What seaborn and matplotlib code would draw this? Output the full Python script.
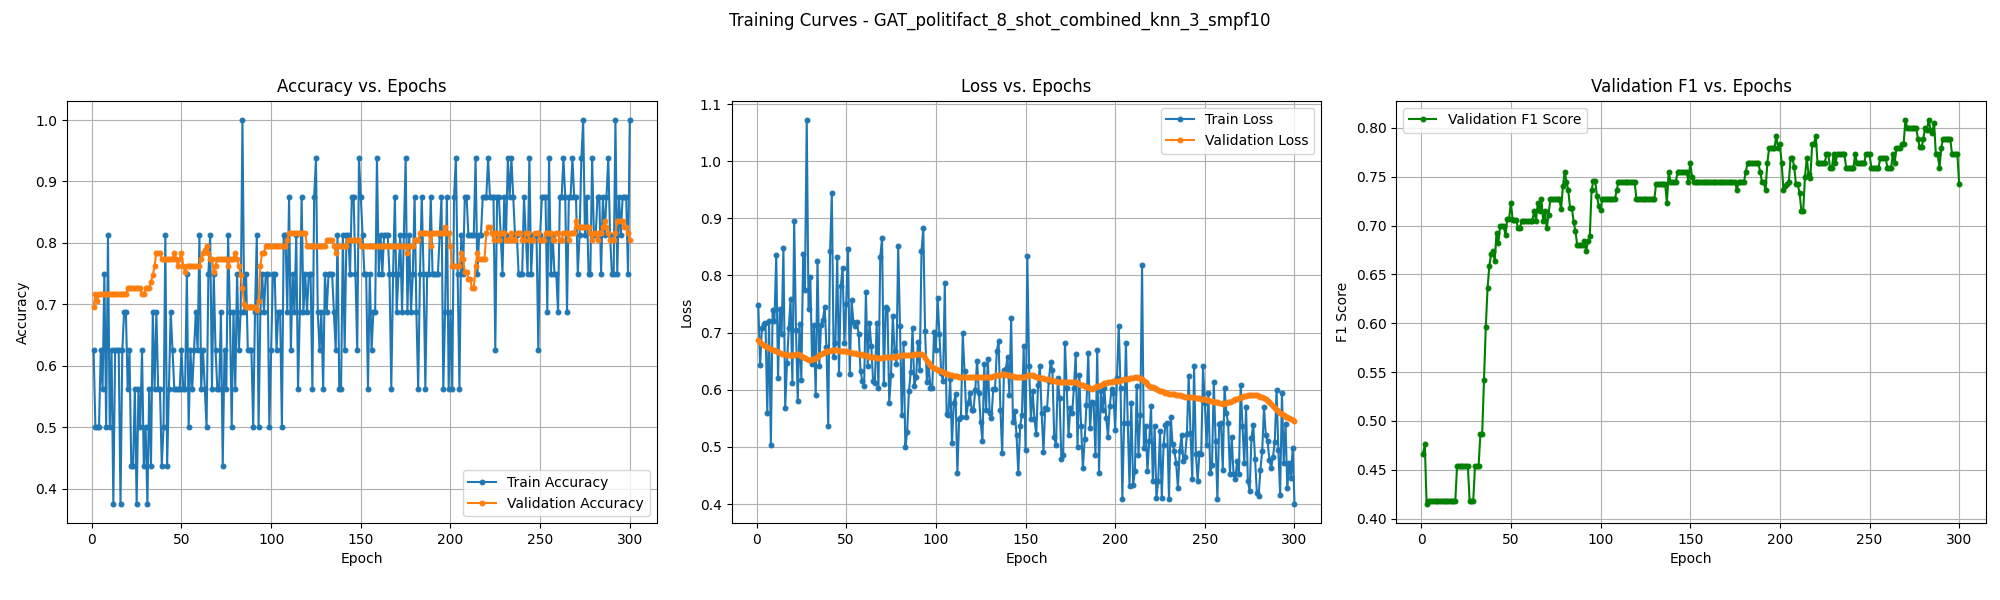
import matplotlib
matplotlib.use("Agg")
import matplotlib.pyplot as plt
import seaborn as sns
import pandas as pd

# epochs 1..300
epochs = list(range(1, 301))

train_acc = [
    0.625, 0.5, 0.5, 0.5, 0.625, 0.5625, 0.75, 0.5, 0.8125, 0.5,
    0.625, 0.375, 0.625, 0.625, 0.625, 0.375, 0.625, 0.6875, 0.6875, 0.5625,
    0.625, 0.4375, 0.4375, 0.5625, 0.375, 0.5625, 0.5, 0.625, 0.4375, 0.5,
    0.375, 0.5625, 0.4375, 0.6875, 0.5625, 0.6875, 0.5625, 0.5625, 0.4375, 0.5,
    0.8125, 0.4375, 0.5625, 0.6875, 0.625, 0.5625, 0.5625, 0.5625, 0.5625, 0.625,
    0.5625, 0.5625, 0.75, 0.5, 0.625, 0.5625, 0.625, 0.6875, 0.625, 0.8125,
    0.5625, 0.625, 0.5625, 0.5, 0.75, 0.8125, 0.5625, 0.75, 0.625, 0.5625,
    0.5625, 0.6875, 0.4375, 0.625, 0.5625, 0.8125, 0.6875, 0.5, 0.6875, 0.5625,
    0.75, 0.625, 0.6875, 1.0, 0.6875, 0.75, 0.625, 0.625, 0.625, 0.5,
    0.6875, 0.8125, 0.5, 0.6875, 0.75, 0.6875, 0.75, 0.75, 0.5, 0.625,
    0.75, 0.75, 0.625, 0.6875, 0.6875, 0.5, 0.8125, 0.8125, 0.6875, 0.875,
    0.625, 0.75, 0.6875, 0.8125, 0.5625, 0.6875, 0.875, 0.6875, 0.75, 0.6875,
    0.75, 0.75, 0.5625, 0.875, 0.9375, 0.6875, 0.625, 0.6875, 0.5625, 0.75,
    0.6875, 0.75, 0.75, 0.75, 0.6875, 0.625, 0.8125, 0.5625, 0.5625, 0.8125,
    0.625, 0.8125, 0.8125, 0.75, 0.875, 0.875, 0.75, 0.625, 0.9375, 0.875,
    0.8125, 0.75, 0.75, 0.5625, 0.75, 0.625, 0.6875, 0.6875, 0.9375, 0.75,
    0.8125, 0.75, 0.8125, 0.8125, 0.8125, 0.75, 0.5625, 0.75, 0.875, 0.6875,
    0.75, 0.8125, 0.6875, 0.8125, 0.9375, 0.6875, 0.8125, 0.6875, 0.75, 0.875,
    0.6875, 0.5625, 0.75, 0.875, 0.75, 0.5625, 0.75, 0.75, 0.875, 0.75,
    0.75, 0.75, 0.75, 0.8125, 0.875, 0.5625, 0.6875, 0.875, 0.5625, 0.6875,
    0.5625, 0.875, 0.9375, 0.75, 0.5625, 0.8125, 0.75, 0.875, 0.875, 0.8125,
    0.8125, 0.8125, 0.8125, 0.9375, 0.75, 0.8125, 0.8125, 0.875, 0.875, 0.875,
    0.9375, 0.875, 0.875, 0.875, 0.625, 0.875, 0.875, 0.8125, 0.75, 0.875,
    0.8125, 0.9375, 0.875, 0.9375, 0.875, 0.8125, 0.8125, 0.75, 0.75, 0.75,
    0.875, 0.8125, 0.75, 0.9375, 0.75, 0.8125, 0.8125, 0.8125, 0.625, 0.8125,
    0.875, 0.875, 0.875, 0.6875, 0.9375, 0.75, 0.8125, 0.75, 0.75, 0.6875,
    0.875, 0.875, 0.9375, 0.875, 0.6875, 0.875, 0.875, 0.9375, 0.875, 0.875,
    0.75, 0.8125, 0.9375, 1.0, 0.8125, 0.875, 0.75, 0.75, 0.9375, 0.8125,
    0.8125, 0.875, 0.875, 0.75, 0.875, 0.8125, 0.875, 0.9375, 0.8125, 0.75,
    0.75, 1.0, 0.75, 0.875, 0.8125, 0.875, 0.875, 0.875, 0.75, 1.0,
]

val_acc = [
    0.696, 0.716, 0.706, 0.716, 0.716, 0.716, 0.716, 0.716, 0.716, 0.716,
    0.716, 0.716, 0.716, 0.716, 0.716, 0.716, 0.716, 0.716, 0.716, 0.726,
    0.726, 0.726, 0.726, 0.726, 0.726, 0.726, 0.726, 0.716, 0.716, 0.726,
    0.726, 0.726, 0.737, 0.747, 0.763, 0.784, 0.784, 0.784, 0.774, 0.774,
    0.774, 0.774, 0.774, 0.774, 0.774, 0.784, 0.774, 0.763, 0.774, 0.784,
    0.763, 0.753, 0.763, 0.763, 0.763, 0.763, 0.763, 0.763, 0.763, 0.763,
    0.774, 0.784, 0.789, 0.795, 0.784, 0.774, 0.774, 0.753, 0.763, 0.774,
    0.774, 0.774, 0.774, 0.774, 0.774, 0.763, 0.774, 0.774, 0.774, 0.784,
    0.774, 0.763, 0.747, 0.726, 0.700, 0.696, 0.696, 0.696, 0.696, 0.696,
    0.696, 0.690, 0.706, 0.763, 0.784, 0.784, 0.795, 0.795, 0.795, 0.795,
    0.795, 0.795, 0.795, 0.795, 0.795, 0.795, 0.795, 0.795, 0.805, 0.816,
    0.816, 0.816, 0.816, 0.816, 0.816, 0.816, 0.816, 0.816, 0.816, 0.795,
    0.795, 0.795, 0.795, 0.795, 0.795, 0.795, 0.795, 0.795, 0.795, 0.795,
    0.805, 0.805, 0.805, 0.805, 0.795, 0.784, 0.795, 0.795, 0.795, 0.795,
    0.795, 0.795, 0.805, 0.805, 0.805, 0.805, 0.805, 0.805, 0.805, 0.795,
    0.795, 0.795, 0.795, 0.795, 0.795, 0.795, 0.795, 0.795, 0.795, 0.795,
    0.795, 0.795, 0.795, 0.795, 0.795, 0.795, 0.795, 0.795, 0.795, 0.795,
    0.795, 0.795, 0.795, 0.795, 0.795, 0.784, 0.795, 0.795, 0.795, 0.805,
    0.805, 0.805, 0.816, 0.816, 0.816, 0.816, 0.816, 0.816, 0.795, 0.816,
    0.816, 0.816, 0.816, 0.816, 0.816, 0.816, 0.826, 0.816, 0.816, 0.795,
    0.763, 0.763, 0.763, 0.763, 0.763, 0.784, 0.774, 0.753, 0.753, 0.742,
    0.742, 0.726, 0.726, 0.763, 0.784, 0.774, 0.774, 0.774, 0.774, 0.816,
    0.826, 0.826, 0.816, 0.805, 0.816, 0.816, 0.805, 0.816, 0.816, 0.816,
    0.805, 0.805, 0.805, 0.816, 0.805, 0.805, 0.816, 0.816, 0.816, 0.805,
    0.805, 0.816, 0.816, 0.805, 0.805, 0.805, 0.816, 0.816, 0.816, 0.805,
    0.805, 0.805, 0.816, 0.816, 0.816, 0.816, 0.805, 0.805, 0.816, 0.816,
    0.805, 0.805, 0.816, 0.816, 0.816, 0.805, 0.816, 0.816, 0.816, 0.835,
    0.826, 0.826, 0.826, 0.826, 0.826, 0.826, 0.826, 0.816, 0.805, 0.816,
    0.816, 0.805, 0.816, 0.816, 0.826, 0.835, 0.826, 0.816, 0.805, 0.805,
    0.805, 0.816, 0.835, 0.835, 0.835, 0.835, 0.826, 0.826, 0.816, 0.805,
]

train_loss = [
    0.748, 0.643, 0.708, 0.715, 0.717, 0.559, 0.721, 0.504, 0.740, 0.721,
    0.836, 0.620, 0.741, 0.698, 0.848, 0.568, 0.647, 0.708, 0.759, 0.612,
    0.895, 0.705, 0.581, 0.715, 0.617, 0.837, 0.775, 1.072, 0.741, 0.798,
    0.645, 0.714, 0.591, 0.826, 0.642, 0.714, 0.722, 0.745, 0.675, 0.537,
    0.842, 0.944, 0.658, 0.682, 0.832, 0.627, 0.782, 0.813, 0.682, 0.750,
    0.847, 0.627, 0.757, 0.719, 0.711, 0.718, 0.697, 0.632, 0.616, 0.607,
    0.771, 0.642, 0.717, 0.676, 0.615, 0.612, 0.717, 0.603, 0.833, 0.865,
    0.610, 0.744, 0.742, 0.577, 0.626, 0.729, 0.667, 0.645, 0.852, 0.712,
    0.555, 0.682, 0.499, 0.526, 0.598, 0.631, 0.708, 0.607, 0.622, 0.683,
    0.634, 0.842, 0.883, 0.702, 0.613, 0.643, 0.603, 0.603, 0.701, 0.670,
    0.760, 0.697, 0.629, 0.615, 0.786, 0.557, 0.556, 0.619, 0.507, 0.577,
    0.592, 0.454, 0.548, 0.552, 0.699, 0.632, 0.553, 0.577, 0.594, 0.565,
    0.565, 0.600, 0.651, 0.594, 0.543, 0.510, 0.645, 0.565, 0.654, 0.559,
    0.550, 0.601, 0.602, 0.667, 0.685, 0.565, 0.489, 0.635, 0.637, 0.657,
    0.591, 0.725, 0.543, 0.563, 0.520, 0.454, 0.536, 0.556, 0.676, 0.495,
    0.834, 0.641, 0.548, 0.597, 0.548, 0.522, 0.609, 0.641, 0.559, 0.491,
    0.568, 0.566, 0.615, 0.648, 0.635, 0.517, 0.503, 0.620, 0.585, 0.479,
    0.485, 0.682, 0.603, 0.520, 0.568, 0.559, 0.603, 0.663, 0.499, 0.626,
    0.536, 0.463, 0.513, 0.574, 0.664, 0.533, 0.578, 0.576, 0.486, 0.670,
    0.454, 0.597, 0.565, 0.603, 0.550, 0.518, 0.571, 0.602, 0.594, 0.530,
    0.620, 0.712, 0.603, 0.408, 0.542, 0.682, 0.542, 0.431, 0.577, 0.434,
    0.457, 0.606, 0.486, 0.556, 0.819, 0.498, 0.536, 0.458, 0.510, 0.571,
    0.440, 0.536, 0.411, 0.440, 0.527, 0.411, 0.504, 0.539, 0.542, 0.408,
    0.553, 0.505, 0.493, 0.472, 0.428, 0.493, 0.520, 0.476, 0.483, 0.522,
    0.624, 0.524, 0.444, 0.641, 0.488, 0.441, 0.489, 0.488, 0.641, 0.577,
    0.503, 0.594, 0.454, 0.468, 0.613, 0.510, 0.409, 0.540, 0.542, 0.460,
    0.603, 0.559, 0.542, 0.453, 0.518, 0.452, 0.443, 0.476, 0.452, 0.609,
    0.536, 0.472, 0.569, 0.440, 0.423, 0.516, 0.539, 0.479, 0.420, 0.414,
    0.460, 0.493, 0.569, 0.521, 0.510, 0.477, 0.463, 0.482, 0.509, 0.600,
    0.495, 0.416, 0.594, 0.472, 0.540, 0.428, 0.472, 0.446, 0.498, 0.400,
]

val_loss = [
    0.687, 0.683, 0.680, 0.678, 0.676, 0.674, 0.673, 0.672, 0.670, 0.669,
    0.667, 0.666, 0.665, 0.663, 0.662, 0.662, 0.661, 0.661, 0.660, 0.660,
    0.661, 0.662, 0.662, 0.661, 0.659, 0.657, 0.655, 0.653, 0.652, 0.652,
    0.653, 0.654, 0.655, 0.657, 0.660, 0.662, 0.664, 0.666, 0.667, 0.668,
    0.668, 0.669, 0.669, 0.669, 0.669, 0.668, 0.668, 0.667, 0.667, 0.667,
    0.666, 0.666, 0.665, 0.665, 0.664, 0.663, 0.662, 0.662, 0.661, 0.660,
    0.660, 0.659, 0.658, 0.658, 0.657, 0.657, 0.656, 0.656, 0.656, 0.656,
    0.657, 0.657, 0.657, 0.658, 0.658, 0.658, 0.658, 0.659, 0.659, 0.659,
    0.660, 0.660, 0.660, 0.660, 0.660, 0.661, 0.661, 0.662, 0.662, 0.663,
    0.663, 0.663, 0.660, 0.655, 0.650, 0.646, 0.643, 0.640, 0.638, 0.637,
    0.635, 0.634, 0.632, 0.631, 0.630, 0.628, 0.627, 0.626, 0.625, 0.624,
    0.624, 0.624, 0.623, 0.623, 0.623, 0.623, 0.623, 0.623, 0.622, 0.622,
    0.622, 0.622, 0.622, 0.622, 0.623, 0.623, 0.622, 0.622, 0.622, 0.623,
    0.623, 0.624, 0.624, 0.625, 0.626, 0.626, 0.627, 0.627, 0.626, 0.625,
    0.625, 0.624, 0.624, 0.623, 0.623, 0.623, 0.623, 0.623, 0.623, 0.624,
    0.624, 0.625, 0.626, 0.625, 0.624, 0.623, 0.622, 0.621, 0.620, 0.620,
    0.619, 0.618, 0.618, 0.617, 0.616, 0.615, 0.615, 0.614, 0.614, 0.613,
    0.613, 0.613, 0.613, 0.613, 0.613, 0.613, 0.613, 0.613, 0.611, 0.610,
    0.609, 0.608, 0.606, 0.605, 0.604, 0.603, 0.602, 0.603, 0.604, 0.606,
    0.607, 0.609, 0.610, 0.611, 0.612, 0.613, 0.613, 0.614, 0.615, 0.615,
    0.616, 0.616, 0.617, 0.617, 0.618, 0.618, 0.619, 0.620, 0.621, 0.621,
    0.622, 0.622, 0.621, 0.620, 0.619, 0.616, 0.613, 0.610, 0.607, 0.605,
    0.604, 0.603, 0.602, 0.600, 0.598, 0.597, 0.596, 0.595, 0.594, 0.593,
    0.593, 0.592, 0.592, 0.591, 0.591, 0.590, 0.589, 0.589, 0.588, 0.588,
    0.588, 0.587, 0.587, 0.587, 0.586, 0.586, 0.585, 0.584, 0.584, 0.583,
    0.582, 0.582, 0.581, 0.580, 0.579, 0.578, 0.578, 0.577, 0.576, 0.575,
    0.576, 0.577, 0.578, 0.579, 0.581, 0.582, 0.583, 0.584, 0.586, 0.587,
    0.588, 0.589, 0.589, 0.590, 0.590, 0.590, 0.590, 0.590, 0.590, 0.589,
    0.588, 0.588, 0.586, 0.584, 0.581, 0.578, 0.575, 0.572, 0.568, 0.565,
    0.562, 0.560, 0.558, 0.556, 0.553, 0.552, 0.550, 0.548, 0.547, 0.545,
]

val_f1 = [
    0.466, 0.476, 0.415, 0.418, 0.418, 0.418, 0.418, 0.418, 0.418, 0.418,
    0.418, 0.418, 0.418, 0.418, 0.418, 0.418, 0.418, 0.418, 0.418, 0.454,
    0.454, 0.454, 0.454, 0.454, 0.454, 0.454, 0.418, 0.418, 0.418, 0.454,
    0.454, 0.454, 0.487, 0.487, 0.542, 0.596, 0.636, 0.659, 0.671, 0.674,
    0.664, 0.692, 0.682, 0.700, 0.700, 0.700, 0.690, 0.707, 0.707, 0.723,
    0.706, 0.706, 0.706, 0.697, 0.697, 0.705, 0.705, 0.705, 0.705, 0.705,
    0.705, 0.705, 0.715, 0.705, 0.723, 0.715, 0.727, 0.705, 0.715, 0.697,
    0.711, 0.727, 0.727, 0.727, 0.727, 0.727, 0.727, 0.717, 0.740, 0.755,
    0.745, 0.736, 0.718, 0.718, 0.704, 0.694, 0.680, 0.680, 0.680, 0.680,
    0.684, 0.674, 0.684, 0.689, 0.736, 0.746, 0.746, 0.730, 0.720, 0.716,
    0.727, 0.727, 0.727, 0.727, 0.727, 0.727, 0.727, 0.727, 0.736, 0.745,
    0.745, 0.745, 0.745, 0.745, 0.745, 0.745, 0.745, 0.745, 0.745, 0.727,
    0.727, 0.727, 0.727, 0.727, 0.727, 0.727, 0.727, 0.727, 0.727, 0.727,
    0.743, 0.743, 0.743, 0.743, 0.743, 0.743, 0.723, 0.755, 0.745, 0.745,
    0.745, 0.745, 0.755, 0.755, 0.755, 0.755, 0.755, 0.755, 0.745, 0.764,
    0.750, 0.745, 0.745, 0.745, 0.745, 0.745, 0.745, 0.745, 0.745, 0.745,
    0.745, 0.745, 0.745, 0.745, 0.745, 0.745, 0.745, 0.745, 0.745, 0.745,
    0.745, 0.745, 0.745, 0.745, 0.745, 0.736, 0.745, 0.745, 0.745, 0.745,
    0.755, 0.764, 0.764, 0.764, 0.764, 0.764, 0.764, 0.764, 0.755, 0.745,
    0.745, 0.736, 0.764, 0.779, 0.779, 0.779, 0.779, 0.792, 0.779, 0.783,
    0.764, 0.736, 0.740, 0.742, 0.745, 0.769, 0.769, 0.760, 0.742, 0.742,
    0.733, 0.715, 0.715, 0.750, 0.769, 0.753, 0.749, 0.783, 0.783, 0.792,
    0.764, 0.764, 0.764, 0.764, 0.764, 0.773, 0.773, 0.759, 0.759, 0.773,
    0.764, 0.773, 0.773, 0.773, 0.773, 0.773, 0.759, 0.759, 0.759, 0.759,
    0.759, 0.773, 0.764, 0.764, 0.764, 0.764, 0.764, 0.773, 0.773, 0.773,
    0.759, 0.759, 0.759, 0.759, 0.759, 0.769, 0.769, 0.769, 0.769, 0.759,
    0.759, 0.759, 0.773, 0.764, 0.779, 0.779, 0.779, 0.783, 0.783, 0.808,
    0.800, 0.800, 0.800, 0.800, 0.800, 0.800, 0.789, 0.780, 0.780, 0.789,
    0.800, 0.798, 0.808, 0.798, 0.795, 0.805, 0.773, 0.773, 0.759, 0.779,
    0.789, 0.789, 0.789, 0.789, 0.789, 0.773, 0.773, 0.773, 0.773, 0.742,
]

title = "Training Curves - GAT_politifact_8_shot_combined_knn_3_smpf10"

df = pd.DataFrame({
    "epoch": epochs,
    "train_acc": train_acc,
    "val_acc": val_acc,
    "train_loss": train_loss,
    "val_loss": val_loss,
    "val_f1": val_f1,
})

blue = "#1f77b4"
orange = "#ff7f0e"
line_kw = dict(marker=".", markersize=7, linewidth=1.5)

fig, axes = plt.subplots(1, 3, figsize=(20, 6), dpi=100)
fig.suptitle(title, fontsize=12)

# 准确率
ax = axes[0]
sns.lineplot(data=df, x="epoch", y="train_acc", ax=ax, color=blue, mec=blue,
             label="Train Accuracy", **line_kw)
sns.lineplot(data=df, x="epoch", y="val_acc", ax=ax, color=orange, mec=orange,
             label="Validation Accuracy", **line_kw)
ax.set_title("Accuracy vs. Epochs")
ax.set_xlabel("Epoch")
ax.set_ylabel("Accuracy")
ax.legend(loc="lower right")
ax.grid(True)

# 损失
ax = axes[1]
sns.lineplot(data=df, x="epoch", y="train_loss", ax=ax, color=blue, mec=blue,
             label="Train Loss", **line_kw)
sns.lineplot(data=df, x="epoch", y="val_loss", ax=ax, color=orange, mec=orange,
             label="Validation Loss", **line_kw)
ax.set_title("Loss vs. Epochs")
ax.set_xlabel("Epoch")
ax.set_ylabel("Loss")
ax.legend(loc="upper right")
ax.grid(True)

# F1
ax = axes[2]
sns.lineplot(data=df, x="epoch", y="val_f1", ax=ax, color="green", mec="green",
             label="Validation F1 Score", **line_kw)
ax.set_title("Validation F1 vs. Epochs")
ax.set_xlabel("Epoch")
ax.set_ylabel("F1 Score")
ax.legend(loc="upper left")
ax.grid(True)

for ax in axes:
    ax.margins(x=0.05, y=0.05)

plt.subplots_adjust(left=0.0334, right=0.993, top=0.832, bottom=0.128, wspace=0.127)
plt.savefig("out.png", dpi=100)
